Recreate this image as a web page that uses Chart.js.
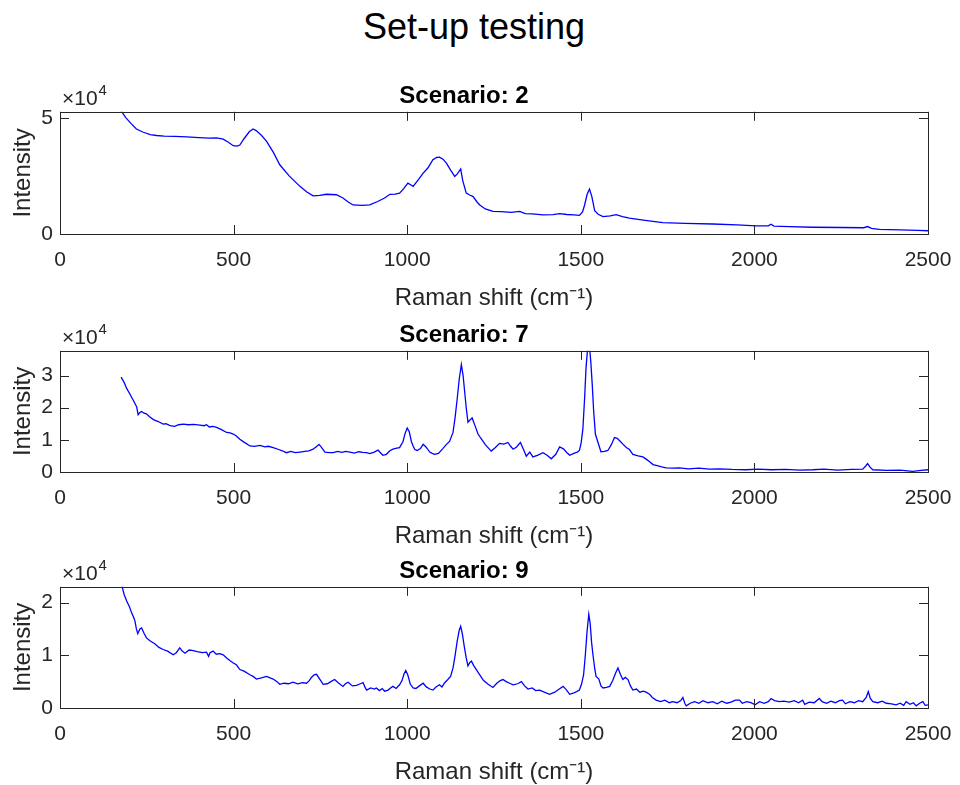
<!DOCTYPE html>
<html>
<head>
<meta charset="utf-8">
<script src="https://cdn.jsdelivr.net/npm/chart.js@4.4.1/dist/chart.umd.min.js"></script>
<style>
  body { margin: 0; background: #fff; }
  #page { position: relative; width: 960px; height: 785px; overflow: hidden; }
  #main-title {
    position: absolute; left: 0; top: 7px; width: 948px;
    text-align: center; font: 36px "Liberation Sans", Arial, Helvetica, sans-serif;
    line-height: 40px; color: #000;
  }
  canvas { position: absolute; left: 0; }
</style>
</head>
<body>
<div id="page">
  <div id="main-title">Set-up testing</div>
  <canvas id="plot1" width="960" height="241" style="top:72px"></canvas>
  <canvas id="plot2" width="960" height="240" style="top:311px"></canvas>
  <canvas id="plot3" width="960" height="240" style="top:547px"></canvas>
</div>
<script>
// Axis ticks
const xTicks = [0, 500, 1000, 1500, 2000, 2500];
const yTicks2 = [0, 50000];
const yTicks7 = [0, 10000, 20000, 30000];
const yTicks9 = [0, 10000, 20000];

// Scenario 2
const shift2 = [176, 190, 205, 220, 240, 260, 278, 300, 330, 365, 400, 430, 451, 470, 485, 499, 510, 518, 530, 545,
  556, 565, 580, 595, 615, 633, 660, 691, 710, 729, 748, 767, 782, 796, 815, 830, 844, 870, 892, 915,
  935, 950, 965, 978, 990, 1002, 1010, 1017, 1030, 1046, 1060, 1074, 1085, 1093, 1103, 1113, 1125, 1137, 1145, 1154,
  1160, 1170, 1180, 1190, 1200, 1209, 1225, 1247, 1270, 1300, 1324, 1340, 1360, 1391, 1420, 1439, 1460, 1480, 1496, 1505,
  1511, 1518, 1525, 1532, 1540, 1550, 1564, 1585, 1602, 1620, 1640, 1680, 1736, 1800, 1880, 1950, 2005, 2040, 2048, 2056,
  2100, 2168, 2250, 2315, 2326, 2337, 2360, 2420, 2470, 2500];
const counts2 = [53000, 50000, 47500, 45200, 43800, 42800, 42400, 42100, 42000, 41800, 41500, 41300, 41400, 40800, 39500, 38000, 37800, 38300, 41000, 44000,
  45200, 44500, 42500, 39900, 35000, 29800, 25000, 20500, 18200, 16400, 16600, 17100, 17000, 16900, 15500, 13800, 12500, 12300, 12500, 14000,
  15500, 17100, 17200, 17600, 19500, 21900, 21200, 20500, 23000, 26200, 28500, 32000, 33000, 33100, 32200, 30500, 27500, 24800, 26000, 28000,
  23000, 17600, 16800, 16100, 14000, 12500, 10800, 9700, 9600, 9300, 9700, 8800, 8700, 8200, 8300, 8800, 8400, 8200, 8000, 9500,
  12500, 17000, 19300, 16000, 10000, 8500, 7500, 7800, 8300, 7500, 6800, 6000, 4900, 4600, 4300, 3900, 3500, 3500, 4200, 3400,
  3200, 2900, 2800, 2700, 3200, 2400, 2000, 1800, 1600, 1400];

// Scenario 7
const shift7 = [176, 185, 192, 200, 211, 221, 225, 230, 235, 242, 249, 258, 269, 283, 297, 305, 317, 330, 342, 355,
  370, 385, 403, 415, 422, 430, 440, 451, 465, 480, 490, 499, 508, 518, 530, 547, 560, 576, 590, 600,
  614, 630, 640, 652, 665, 678, 691, 705, 717, 729, 740, 746, 752, 763, 775, 787, 800, 812, 823, 835,
  848, 860, 872, 883, 892, 905, 916, 923, 930, 940, 950, 959, 970, 978, 988, 994, 1000, 1006, 1012, 1017,
  1022, 1029, 1038, 1046, 1054, 1065, 1072, 1079, 1090, 1102, 1113, 1122, 1132, 1138, 1144, 1150, 1156, 1161, 1165, 1170,
  1175, 1181, 1187, 1195, 1204, 1212, 1225, 1242, 1254, 1266, 1278, 1290, 1298, 1305, 1315, 1326, 1335, 1343, 1353, 1362,
  1375, 1391, 1403, 1415, 1428, 1439, 1450, 1460, 1468, 1480, 1490, 1496, 1501, 1506, 1511, 1515, 1520, 1525, 1529, 1533,
  1537, 1542, 1550, 1558, 1568, 1578, 1588, 1597, 1605, 1612, 1622, 1631, 1640, 1650, 1665, 1679, 1692, 1708, 1720, 1733,
  1746, 1765, 1784, 1810, 1840, 1870, 1900, 1935, 1976, 2010, 2050, 2090, 2130, 2168, 2200, 2240, 2280, 2312, 2320, 2326,
  2333, 2341, 2380, 2420, 2456, 2480, 2500];
const counts7 = [29500, 27800, 26000, 24500, 22300, 20200, 17800, 18500, 18800, 18300, 18100, 17200, 16300, 15700, 14900, 15000, 14400, 14200, 14700, 14900,
  14700, 14800, 14600, 14400, 14700, 14000, 14200, 13900, 13200, 12300, 12200, 11800, 11200, 10200, 9300, 8100, 8000, 8300, 7800, 8000,
  7600, 7000, 6600, 6000, 6400, 6000, 6200, 6400, 6600, 7100, 8000, 8600, 7800, 6200, 6000, 6000, 6400, 6100, 6400, 6200,
  5900, 6300, 6100, 6000, 5700, 6200, 6800, 6000, 5200, 5500, 6600, 7100, 7400, 7600, 9500, 12000, 13700, 12500, 9500, 8100,
  7000, 6700, 7300, 8600, 7800, 6200, 5800, 5500, 5800, 7200, 8600, 9500, 12300, 17000, 22800, 29000, 33400, 30000, 25500, 20000,
  15500, 16200, 16800, 14500, 11800, 10500, 8500, 6500, 7600, 8900, 8700, 9200, 8000, 7100, 7800, 9200, 7000, 4900, 6200, 4700,
  5200, 6000, 5200, 4100, 5500, 7800, 7200, 6000, 5200, 5800, 6200, 6700, 9000, 13400, 23000, 32300, 39000, 39000, 34000, 27100,
  19000, 11800, 9000, 6300, 6400, 6700, 8500, 10700, 10500, 9700, 8600, 7600, 7000, 5500, 5000, 4700, 3700, 2300, 2000, 1600,
  1300, 1200, 1300, 1000, 1200, 900, 1000, 800, 700, 900, 700, 800, 600, 700, 900, 600, 800, 900, 1800, 2600,
  1500, 700, 500, 600, 200, 500, 700];

// Scenario 9
const shift9 = [177, 185, 192, 200, 206, 212, 216, 220, 224, 230, 235, 242, 249, 260, 273, 285, 297, 310, 326, 335,
  345, 352, 360, 372, 384, 395, 410, 422, 428, 432, 441, 450, 460, 470, 480, 489, 498, 508, 518, 530,
  547, 556, 566, 580, 595, 605, 614, 625, 633, 645, 658, 671, 685, 698, 710, 718, 724, 732, 739, 748,
  758, 770, 780, 791, 803, 815, 822, 830, 842, 854, 865, 873, 878, 883, 895, 905, 911, 920, 928, 935,
  945, 952, 959, 968, 978, 985, 991, 996, 1002, 1009, 1017, 1025, 1035, 1046, 1055, 1065, 1074, 1083, 1093, 1100,
  1108, 1117, 1125, 1132, 1138, 1144, 1150, 1154, 1159, 1165, 1170, 1175, 1180, 1185, 1192, 1200, 1209, 1220, 1233, 1247,
  1258, 1268, 1276, 1285, 1295, 1305, 1318, 1329, 1338, 1348, 1360, 1370, 1381, 1395, 1410, 1425, 1438, 1449, 1458, 1468,
  1478, 1488, 1496, 1502, 1508, 1513, 1518, 1523, 1527, 1531, 1535, 1540, 1544, 1552, 1558, 1564, 1574, 1583, 1592, 1600,
  1607, 1614, 1621, 1628, 1636, 1643, 1650, 1660, 1670, 1680, 1688, 1698, 1706, 1717, 1730, 1742, 1755, 1765, 1777, 1788,
  1794, 1800, 1804, 1815, 1828, 1840, 1852, 1866, 1880, 1893, 1906, 1920, 1933, 1945, 1957, 1965, 1978, 1990, 2002, 2015,
  2028, 2040, 2048, 2058, 2072, 2085, 2100, 2115, 2127, 2139, 2145, 2158, 2172, 2187, 2195, 2208, 2220, 2233, 2245, 2254,
  2262, 2275, 2288, 2300, 2312, 2322, 2328, 2334, 2341, 2355, 2368, 2380, 2395, 2408, 2420, 2430, 2437, 2448, 2458, 2466,
  2476, 2485, 2492, 2500];
const counts9 = [23500, 21500, 20300, 19200, 18100, 17200, 16500, 15000, 14100, 15000, 15200, 14200, 13300, 12700, 12200, 11500, 11100, 10800, 10100, 10500,
  11400, 10800, 10400, 11000, 10900, 10700, 10500, 10600, 9800, 10500, 10800, 10200, 10300, 10100, 9500, 9000, 8600, 8200, 7300, 7000,
  6300, 6000, 5500, 5700, 6000, 5700, 5500, 5000, 4500, 4700, 4600, 4900, 4600, 4800, 4700, 5200, 5800, 6300, 6400, 5500,
  4500, 4600, 5000, 5400, 4700, 4100, 4600, 4900, 4200, 4300, 4600, 4800, 4000, 3400, 3800, 3600, 3800, 3300, 3700, 3200,
  3400, 3800, 4100, 3700, 4400, 5200, 6500, 7100, 6200, 4500, 3800, 3700, 4200, 4700, 4000, 3600, 3400, 4000, 4400, 4000,
  4800, 5400, 6000, 7600, 10000, 12700, 14800, 15500, 14000, 11400, 9500, 8000, 8600, 8900, 8000, 7200, 6300, 5200, 4500, 3900,
  4700, 5200, 5400, 5000, 4700, 4400, 4600, 5000, 4200, 3600, 3800, 3300, 3400, 3000, 2600, 3000, 3600, 4100, 3500, 2600,
  2800, 3100, 3400, 4500, 6300, 10000, 14500, 17800, 16000, 12500, 10100, 7500, 6000, 5500, 4200, 3800, 3900, 4100, 5200, 6600,
  7600, 6400, 5400, 5800, 5400, 4200, 3400, 3600, 3000, 3200, 3000, 2600, 2000, 1500, 1200, 1500, 1000, 1200, 1000, 1400,
  2000, 800, 400, 900, 1200, 900, 1400, 1000, 1200, 800, 1300, 900, 1100, 1500, 1500, 900, 1200, 1000, 600, 1200,
  900, 1200, 1800, 1400, 1200, 1300, 1100, 1400, 1000, 1500, 700, 1100, 1000, 1800, 1200, 900, 1300, 1000, 1400, 1500,
  800, 1200, 1000, 1400, 1200, 2000, 3100, 1800, 1200, 1000, 1300, 900, 800, 600, 900, 500, 1200, 700, 1000, 400,
  900, 1200, 500, 600];

const scenarios = [
  { id: 'plot1', title: 'Scenario: 2', shift: shift2, counts: counts2, yMax: 52600, yTicks: yTicks2 },
  { id: 'plot2', title: 'Scenario: 7', shift: shift7, counts: counts7, yMax: 37700, yTicks: yTicks7 },
  { id: 'plot3', title: 'Scenario: 9', shift: shift9, counts: counts9, yMax: 23000, yTicks: yTicks9 }
];

const FONT = '"Liberation Sans", Arial, Helvetica, sans-serif';
const AXIS_COLOR = '#262626';

// MATLAB-like box with inward ticks and the x10^4 exponent label
const matlabBox = {
  id: 'matlabBox',
  afterDatasetsDraw(chart) {
    const { ctx, chartArea: a, scales } = chart;
    const len = 9;
    ctx.save();
    ctx.strokeStyle = AXIS_COLOR;
    ctx.lineWidth = 1;
    ctx.beginPath();
    scales.x.ticks.forEach(t => {
      const px = Math.round(scales.x.getPixelForValue(t.value)) + 0.5;
      ctx.moveTo(px, a.bottom); ctx.lineTo(px, a.bottom - len);
      ctx.moveTo(px, a.top); ctx.lineTo(px, a.top + len);
    });
    scales.y.ticks.forEach(t => {
      const py = Math.round(scales.y.getPixelForValue(t.value)) + 0.5;
      ctx.moveTo(a.left, py); ctx.lineTo(a.left + len, py);
      ctx.moveTo(a.right, py); ctx.lineTo(a.right - len, py);
    });
    ctx.stroke();
    ctx.strokeRect(Math.round(a.left) + 0.5, Math.round(a.top) + 0.5,
      Math.round(a.right - a.left), Math.round(a.bottom - a.top));

    ctx.fillStyle = AXIS_COLOR;
    ctx.textBaseline = 'alphabetic';
    ctx.textAlign = 'left';
    ctx.font = '21px ' + FONT;
    const base = a.top - 7;
    ctx.fillText('\u00d710', a.left + 2, base);
    const w = ctx.measureText('\u00d710').width;
    ctx.font = '15px ' + FONT;
    ctx.fillText('4', a.left + 3 + w, base - 10);
    ctx.restore();
  }
};

function makeChart(s) {
  const ctx = document.getElementById(s.id).getContext('2d');
  return new Chart(ctx, {
    type: 'line',
    data: {
      datasets: [{
        data: s.shift.map((x, i) => ({ x: x, y: s.counts[i] })),
        borderColor: '#0000ff',
        borderWidth: 1.3,
        pointRadius: 0,
        tension: 0,
        fill: false
      }]
    },
    options: {
      responsive: false,
      animation: false,
      events: [],
      layout: { padding: { left: 0, right: 32, top: 0, bottom: 0 } },
      plugins: {
        legend: { display: false },
        tooltip: { enabled: false },
        title: {
          display: true,
          text: s.title,
          color: '#000',
          font: { family: FONT, size: 24, weight: 'bold' },
          padding: { top: 10, bottom: 1 }
        }
      },
      scales: {
        x: {
          type: 'linear',
          min: 0,
          max: 2500,
          afterBuildTicks: sc => { sc.ticks = xTicks.map(v => ({ value: v })); },
          afterFit: sc => { sc.height = 79; sc.paddingLeft = 0; sc.paddingRight = 0; },
          grid: { display: false, drawTicks: false },
          border: { display: false },
          ticks: {
            color: AXIS_COLOR,
            font: { family: FONT, size: 21 },
            padding: 14,
            maxRotation: 0,
            callback: v => String(v)
          },
          title: {
            display: true,
            text: 'Raman shift (cm\u207b\u00b9)',
            color: AXIS_COLOR,
            font: { family: FONT, size: 24 },
            padding: { top: 0, bottom: 0 }
          }
        },
        y: {
          min: 0,
          max: s.yMax,
          afterBuildTicks: sc => { sc.ticks = s.yTicks.map(v => ({ value: v })); },
          afterFit: sc => { sc.width = 60; },
          grid: { display: false, drawTicks: false },
          border: { display: false },
          ticks: {
            color: AXIS_COLOR,
            font: { family: FONT, size: 21 },
            padding: 7,
            callback: v => String(v / 10000)
          },
          title: {
            display: true,
            text: 'Intensity',
            color: AXIS_COLOR,
            font: { family: FONT, size: 24 },
            padding: { top: 9, bottom: 0 }
          }
        }
      }
    },
    plugins: [matlabBox]
  });
}

scenarios.forEach(makeChart);
</script>
</body>
</html>
